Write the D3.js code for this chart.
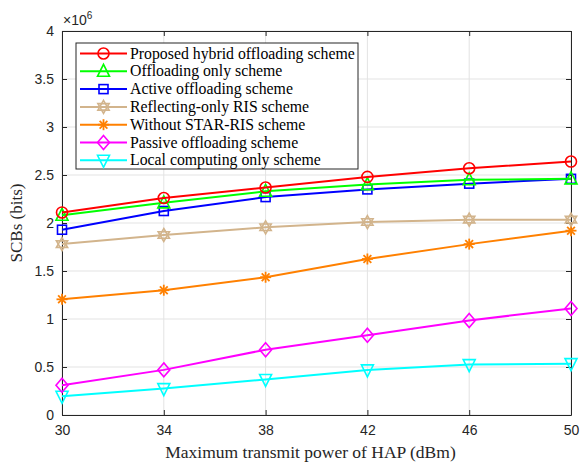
<!DOCTYPE html>
<html>
<head>
<meta charset="utf-8">
<script src="https://cdn.jsdelivr.net/npm/d3@7"></script>
<style>
  body { margin: 0; background: #fff; }
  svg { display: block; }
</style>
</head>
<body>
<svg width="585" height="462"></svg>
<script>
// x values (dBm)
const powers = [30, 34, 38, 42, 46, 50];
const xTicks = [30, 34, 38, 42, 46, 50];
const yTicks = [0, 0.5, 1, 1.5, 2, 2.5, 3, 3.5, 4];

// values in units of 1e6 bits
const proposed   = [2.11, 2.26, 2.37, 2.48, 2.57, 2.64];
const offloadOnly = [2.08, 2.21, 2.33, 2.40, 2.45, 2.46];
const active     = [1.93, 2.125, 2.27, 2.35, 2.41, 2.46];
const reflecting = [1.78, 1.875, 1.955, 2.01, 2.035, 2.035];
const noStar     = [1.205, 1.30, 1.435, 1.625, 1.78, 1.92];
const passive    = [0.31, 0.47, 0.68, 0.83, 0.985, 1.11];
const localOnly  = [0.195, 0.275, 0.37, 0.47, 0.525, 0.535];

const seriesNames = [
  "Proposed hybrid offloading scheme",
  "Offloading only scheme",
  "Active offloading scheme",
  "Reflecting-only RIS scheme",
  "Without STAR-RIS scheme",
  "Passive offloading scheme",
  "Local computing only scheme"
];
const seriesColors = ["#ff0000", "#00ff00", "#0000ff", "#d2b48c", "#ff8000", "#ff00ff", "#00ffff"];
const seriesMarkers = ["circle", "triUp", "square", "hexagram", "asterisk", "diamond", "triDown"];
const seriesValues = [proposed, offloadOnly, active, reflecting, noStar, passive, localOnly];

const series = seriesNames.map((n, i) => ({
  name: n, color: seriesColors[i], marker: seriesMarkers[i], values: seriesValues[i]
}));

const svg = d3.select("svg");
const pLeft = 62, pRight = 571, pTop = 31, pBottom = 415;

const x = d3.scaleLinear().domain([30, 50]).range([pLeft, pRight]);
const y = d3.scaleLinear().domain([0, 4]).range([pBottom, pTop]);

const axisCol = "#262626";
const tickFont = "Liberation Sans, Arial, sans-serif";
const serif = "Liberation Serif, Times New Roman, serif";

// grid
const grid = svg.append("g");
grid.selectAll(".gx").data(xTicks).enter().append("line")
  .attr("x1", d => x(d)).attr("x2", d => x(d))
  .attr("y1", pTop).attr("y2", pBottom)
  .attr("stroke", "#e3e3e3").attr("stroke-width", 1);
grid.selectAll(".gy").data(yTicks).enter().append("line")
  .attr("x1", pLeft).attr("x2", pRight)
  .attr("y1", d => y(d)).attr("y2", d => y(d))
  .attr("stroke", "#e3e3e3").attr("stroke-width", 1);

// axes (ticks inward)
const xAxis = svg.append("g").attr("transform", `translate(0,${pBottom})`)
  .call(d3.axisBottom(x).tickValues(xTicks).tickSizeInner(-5).tickSizeOuter(0).tickPadding(10));
const yAxis = svg.append("g").attr("transform", `translate(${pLeft},0)`)
  .call(d3.axisLeft(y).tickValues(yTicks).tickSizeInner(-5).tickSizeOuter(0).tickPadding(8).tickFormat(d3.format("")));
const xTop = svg.append("g").attr("transform", `translate(0,${pTop})`)
  .call(d3.axisTop(x).tickValues(xTicks).tickSizeInner(-5).tickSizeOuter(0).tickFormat(""));
const yRight = svg.append("g").attr("transform", `translate(${pRight},0)`)
  .call(d3.axisRight(y).tickValues(yTicks).tickSizeInner(-5).tickSizeOuter(0).tickFormat(""));

[xAxis, yAxis, xTop, yRight].forEach(g => {
  g.select(".domain").attr("stroke", axisCol).attr("stroke-width", 1);
  g.selectAll(".tick line").attr("stroke", axisCol);
  g.selectAll("text").attr("fill", axisCol).style("font-family", tickFont).style("font-size", "14px");
});

// exponent label
const expo = svg.append("text").attr("x", pLeft + 1).attr("y", 25)
  .attr("fill", axisCol).style("font-family", tickFont).style("font-size", "14px");
expo.append("tspan").text("\u00d710");
expo.append("tspan").attr("dy", -6).style("font-size", "10px").text("6");

// axis labels
svg.append("text").attr("x", (pLeft + pRight) / 2 - 6).attr("y", 458)
  .attr("text-anchor", "middle").attr("fill", axisCol)
  .style("font-family", serif).style("font-size", "17.5px")
  .text("Maximum transmit power of HAP (dBm)");
svg.append("text").attr("transform", `translate(22,${(pTop + pBottom) / 2}) rotate(-90)`)
  .attr("text-anchor", "middle").attr("fill", axisCol)
  .style("font-family", serif).style("font-size", "17px")
  .text("SCBs (bits)");

// marker drawing
function drawMarker(g, type, color, cx, cy) {
  const s = 6;
  const p = g.append("g").attr("transform", `translate(${cx},${cy})`);
  const st = el => el.attr("fill", "none").attr("stroke", color).attr("stroke-width", 1.6);
  if (type === "circle") st(p.append("circle").attr("r", 5.5));
  else if (type === "square") st(p.append("rect").attr("x", -4.5).attr("y", -4.5).attr("width", 9).attr("height", 9));
  else if (type === "diamond") st(p.append("path").attr("d", `M0,${-s - 1}L${s},0L0,${s + 1}L${-s},0Z`));
  else if (type === "triUp") st(p.append("path").attr("d", `M0,${-s - 1}L${s},${s - 1}L${-s},${s - 1}Z`));
  else if (type === "triDown") st(p.append("path").attr("d", `M0,${s + 1}L${s},${-s + 1}L${-s},${-s + 1}Z`));
  else if (type === "hexagram") {
    const r = 6.5;
    const tri = a => d3.range(3).map(k => {
      const t = a + k * 2 * Math.PI / 3;
      return [r * Math.cos(t), r * Math.sin(t)];
    });
    st(p.append("path").attr("d", "M" + tri(-Math.PI / 2).join("L") + "Z"));
    st(p.append("path").attr("d", "M" + tri(Math.PI / 2).join("L") + "Z"));
  } else if (type === "asterisk") {
    const r = 5.5;
    [0, 45, 90, 135].forEach(a => {
      const t = a * Math.PI / 180;
      p.append("line")
        .attr("x1", -r * Math.cos(t)).attr("y1", -r * Math.sin(t))
        .attr("x2", r * Math.cos(t)).attr("y2", r * Math.sin(t))
        .attr("stroke", color).attr("stroke-width", 1.8);
    });
  }
}

const line = d3.line().x((d, i) => x(powers[i])).y(d => y(d));

const plot = svg.append("g");
series.slice().reverse().forEach(s => {
  plot.append("path").datum(s.values)
    .attr("d", line).attr("fill", "none")
    .attr("stroke", s.color).attr("stroke-width", 2);
  s.values.forEach((v, i) => drawMarker(plot, s.marker, s.color, x(powers[i]), y(v)));
});

// legend
const lg = svg.append("g");
const lx = 76, ly = 43, lw = 282, lh = 126;
lg.append("rect").attr("x", lx).attr("y", ly).attr("width", lw).attr("height", lh)
  .attr("fill", "#fff").attr("stroke", axisCol).attr("stroke-width", 1);
series.forEach((s, i) => {
  const ry = 53.5 + i * 17.8;
  lg.append("line").attr("x1", 80).attr("x2", 127).attr("y1", ry).attr("y2", ry)
    .attr("stroke", s.color).attr("stroke-width", 2);
  drawMarker(lg, s.marker, s.color, 103.5, ry);
  lg.append("text").attr("x", 130).attr("y", ry + 5)
    .attr("fill", "#000").style("font-family", serif).style("font-size", "15.8px")
    .text(s.name);
});
</script>
</body>
</html>
